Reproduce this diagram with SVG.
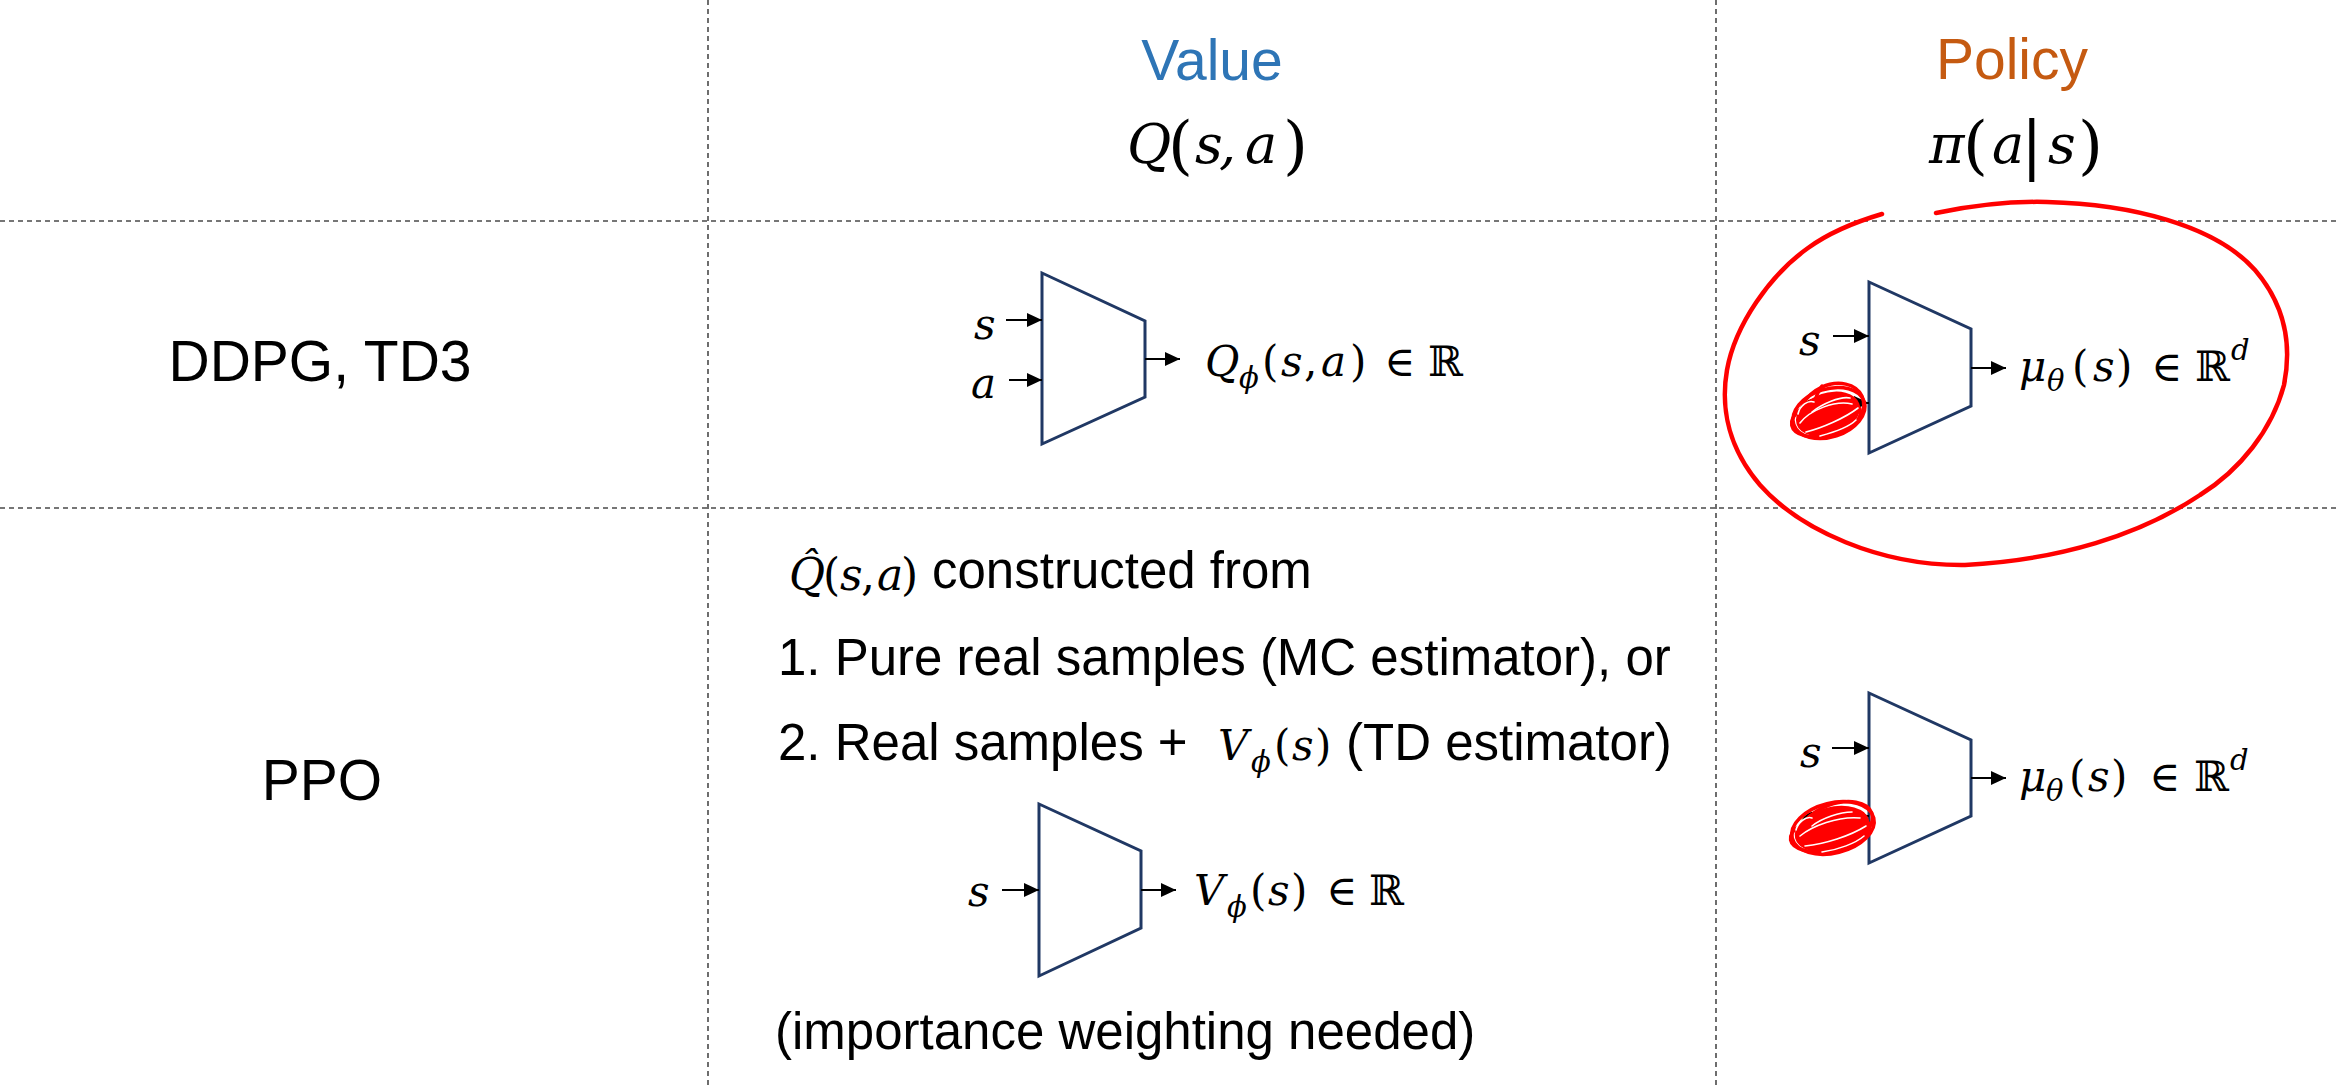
<svg xmlns="http://www.w3.org/2000/svg" width="2338" height="1088" viewBox="0 0 2338 1088">
<defs>
<style>
.grid{stroke:#4a4a4a;stroke-width:1.6;stroke-dasharray:5 4;fill:none}
.net{fill:#fff;stroke:#203864;stroke-width:3;stroke-linejoin:miter}
.arr{stroke:#000;stroke-width:2;fill:none;marker-end:url(#ah)}
.t{font-family:"Liberation Sans",Arial,sans-serif;fill:#000}
.m{font-family:"DejaVu Serif","Liberation Serif",serif;font-style:italic;fill:#000}
.r{font-style:normal}
.red{stroke:#ff0000;fill:none;stroke-linecap:round;stroke-linejoin:round}
.wh{stroke:#ffffff;fill:none;stroke-width:1.6;stroke-linecap:round}
</style>
<marker id="ah" markerUnits="userSpaceOnUse" markerWidth="16" markerHeight="14" refX="15" refY="7" orient="auto">
<path d="M0,0 L15,7 L0,14 z" fill="#000"/>
</marker>
</defs>
<rect width="2338" height="1088" fill="#fff"/>

<g id="grid">
<line class="grid" x1="708" y1="0" x2="708" y2="1088"/>
<line class="grid" x1="1716" y1="0" x2="1716" y2="1088"/>
<line class="grid" x1="0" y1="221" x2="2338" y2="221"/>
<line class="grid" x1="0" y1="508" x2="2338" y2="508"/>
</g>

<g id="header-value">
<text class="t" x="1212" y="80" font-size="57" text-anchor="middle" style="fill:#2E75B6">Value</text>
<text class="m" y="163" font-size="54"><tspan x="1127">Q</tspan><tspan x="1168" y="167" font-size="64" class="r">(</tspan><tspan x="1195" y="163">s</tspan><tspan x="1219">,</tspan><tspan x="1245">a</tspan><tspan x="1283" y="167" font-size="64" class="r">)</tspan></text>
</g>
<g id="header-policy">
<text class="t" x="2012" y="79" font-size="57" text-anchor="middle" style="fill:#C55A11">Policy</text>
<text class="m" y="163" font-size="54"><tspan x="1929">π</tspan><tspan x="1963" y="167" font-size="64" class="r">(</tspan><tspan x="1992" y="163">a</tspan><tspan x="2021" y="167" font-size="64" class="r">|</tspan><tspan x="2048" y="163">s</tspan><tspan x="2078" y="167" font-size="64" class="r">)</tspan></text>
</g>
<g id="row-ddpg">
<text class="t" x="320" y="381" font-size="57" text-anchor="middle">DDPG, TD3</text>
</g>
<g id="row-ppo">
<text class="t" x="322" y="800" font-size="57" text-anchor="middle">PPO</text>
</g>

<g id="q-network">
<polygon class="net" points="1042,273 1145,321 1145,397 1042,444"/>
<text class="m" x="974" y="339" font-size="42">s</text>
<text class="m" x="971" y="398" font-size="42">a</text>
<text class="m" y="376" font-size="42"><tspan x="1205">Q</tspan><tspan x="1239" y="388" font-size="29">ϕ</tspan><tspan x="1262" y="376" class="r">(</tspan><tspan x="1281">s</tspan><tspan x="1304" class="r">,</tspan><tspan x="1321">a</tspan><tspan x="1350" class="r">)</tspan><tspan x="1384" class="r">∈</tspan><tspan x="1428" class="r">ℝ</tspan></text>
</g>

<g id="policy-network-1">
<polygon class="net" points="1869,282 1971,329 1971,406 1869,453"/>
<text class="m" x="1799" y="355" font-size="42">s</text>
<text class="m" x="1798" y="421" font-size="42">a</text>
<text class="m" y="381" font-size="42"><tspan x="2019">μ</tspan><tspan x="2047" y="391" font-size="29">θ</tspan><tspan x="2072" y="381" class="r">(</tspan><tspan x="2093">s</tspan><tspan x="2116" class="r">)</tspan><tspan x="2151" class="r">∈</tspan><tspan x="2195" class="r">ℝ</tspan><tspan x="2231" y="360" font-size="29">d</tspan></text>
</g>

<g id="v-network">
<polygon class="net" points="1039,804 1141,851 1141,928 1039,976"/>
<text class="m" x="968" y="906" font-size="42">s</text>
<text class="m" y="905" font-size="42"><tspan x="1194">V</tspan><tspan x="1227" y="917" font-size="29">ϕ</tspan><tspan x="1250" y="905" class="r">(</tspan><tspan x="1268">s</tspan><tspan x="1291" class="r">)</tspan><tspan x="1326" class="r">∈</tspan><tspan x="1369" class="r">ℝ</tspan></text>
</g>

<g id="policy-network-2">
<polygon class="net" points="1869,693 1971,740 1971,816 1869,863"/>
<text class="m" x="1800" y="767" font-size="42">s</text>
<text class="m" x="1798" y="834" font-size="42">a</text>
<text class="m" y="791" font-size="42"><tspan x="2019">μ</tspan><tspan x="2046" y="801" font-size="29">θ</tspan><tspan x="2069" y="791" class="r">(</tspan><tspan x="2088">s</tspan><tspan x="2111" class="r">)</tspan><tspan x="2149" class="r">∈</tspan><tspan x="2194" class="r">ℝ</tspan><tspan x="2230" y="770" font-size="29">d</tspan></text>
</g>

<g id="ppo-value-text">
<text y="590"><tspan class="m" x="789" font-size="44">Q̂</tspan><tspan class="m r" x="823" font-size="44">(</tspan><tspan class="m" x="840" font-size="44">s</tspan><tspan class="m r" x="861" font-size="44">,</tspan><tspan class="m" x="877" font-size="44">a</tspan><tspan class="m r" x="901" font-size="44">)</tspan><tspan class="t" x="932" y="588" font-size="51">constructed from</tspan></text>
<text class="t" x="778" y="675" font-size="51">1. Pure real samples (MC estimator), or</text>
<text y="760"><tspan class="t" x="778" font-size="51">2. Real samples +</tspan><tspan class="m" x="1218" font-size="42">V</tspan><tspan class="m" x="1251" y="772" font-size="29">ϕ</tspan><tspan class="m r" x="1274" y="760" font-size="42">(</tspan><tspan class="m" x="1292" font-size="42">s</tspan><tspan class="m r" x="1315" font-size="42">)</tspan><tspan class="t" x="1346" font-size="51">(TD estimator)</tspan></text>
<text class="t" x="775" y="1049" font-size="51">(importance weighting needed)</text>
</g>

<g id="connectors">
<line class="arr" x1="1006" y1="320" x2="1042" y2="320"/>
<line class="arr" x1="1009" y1="380" x2="1042" y2="380"/>
<line class="arr" x1="1145" y1="359" x2="1180" y2="359"/>
<line class="arr" x1="1833" y1="336" x2="1869" y2="336"/>
<line class="arr" x1="1833" y1="403" x2="1869" y2="403"/>
<line class="arr" x1="1971" y1="368" x2="2006" y2="368"/>
<line class="arr" x1="1002" y1="890" x2="1039" y2="890"/>
<line class="arr" x1="1141" y1="890" x2="1176" y2="890"/>
<line class="arr" x1="1832" y1="748" x2="1869" y2="748"/>
<line class="arr" x1="1833" y1="816" x2="1869" y2="816"/>
<line class="arr" x1="1971" y1="778" x2="2006" y2="778"/>
</g>

<g id="annotations">
<path class="red" stroke-width="4.5" d="M1936,213 C1975,205 2010,201 2047,202 C2130,204 2215,225 2255,270 C2285,305 2292,345 2284,385 C2272,430 2240,470 2200,495 C2140,535 2060,560 1965,565 C1880,566 1800,530 1760,485 C1730,450 1720,410 1727,370 C1735,325 1770,275 1808,248 C1830,232 1855,222 1882,214"/>
<g id="scribble-1">
<ellipse cx="1828" cy="414" rx="33" ry="21" transform="rotate(-18 1828 414)" fill="#ff0000"/>
<g class="red" stroke-width="3.5">
<ellipse cx="1829" cy="413" rx="37" ry="24" transform="rotate(-18 1829 413)"/>
<ellipse cx="1832" cy="410" rx="33" ry="25" transform="rotate(-25 1832 410)"/>
<ellipse cx="1826" cy="418" rx="35" ry="18" transform="rotate(-12 1826 418)"/>
<path d="M1822,386 C1817,393 1815,399 1815,404"/>
</g>
<g class="wh">
<path d="M1800,423 C1810,410 1835,400 1852,404"/>
<path d="M1806,432 C1822,428 1845,418 1858,408"/>
<path d="M1812,412 C1822,404 1840,396 1850,398"/>
<path d="M1798,414 C1800,405 1808,400 1814,402"/>
<path d="M1820,436 C1835,432 1850,426 1856,420"/>
</g>
</g>
<g id="scribble-2">
<ellipse cx="1832" cy="829" rx="38" ry="22" transform="rotate(-14 1832 829)" fill="#ff0000"/>
<g class="red" stroke-width="3.5">
<ellipse cx="1833" cy="828" rx="42" ry="25" transform="rotate(-14 1833 828)"/>
<ellipse cx="1836" cy="826" rx="38" ry="22" transform="rotate(-20 1836 826)"/>
<ellipse cx="1830" cy="833" rx="40" ry="18" transform="rotate(-10 1830 833)"/>
</g>
<g class="wh">
<path d="M1800,836 C1812,826 1838,816 1860,818"/>
<path d="M1805,846 C1825,844 1850,836 1866,826"/>
<path d="M1812,826 C1822,818 1840,812 1852,812"/>
<path d="M1796,830 C1798,822 1806,816 1812,818"/>
<path d="M1822,852 C1838,850 1856,843 1864,836"/>
</g>
</g>
</g>
</svg>
